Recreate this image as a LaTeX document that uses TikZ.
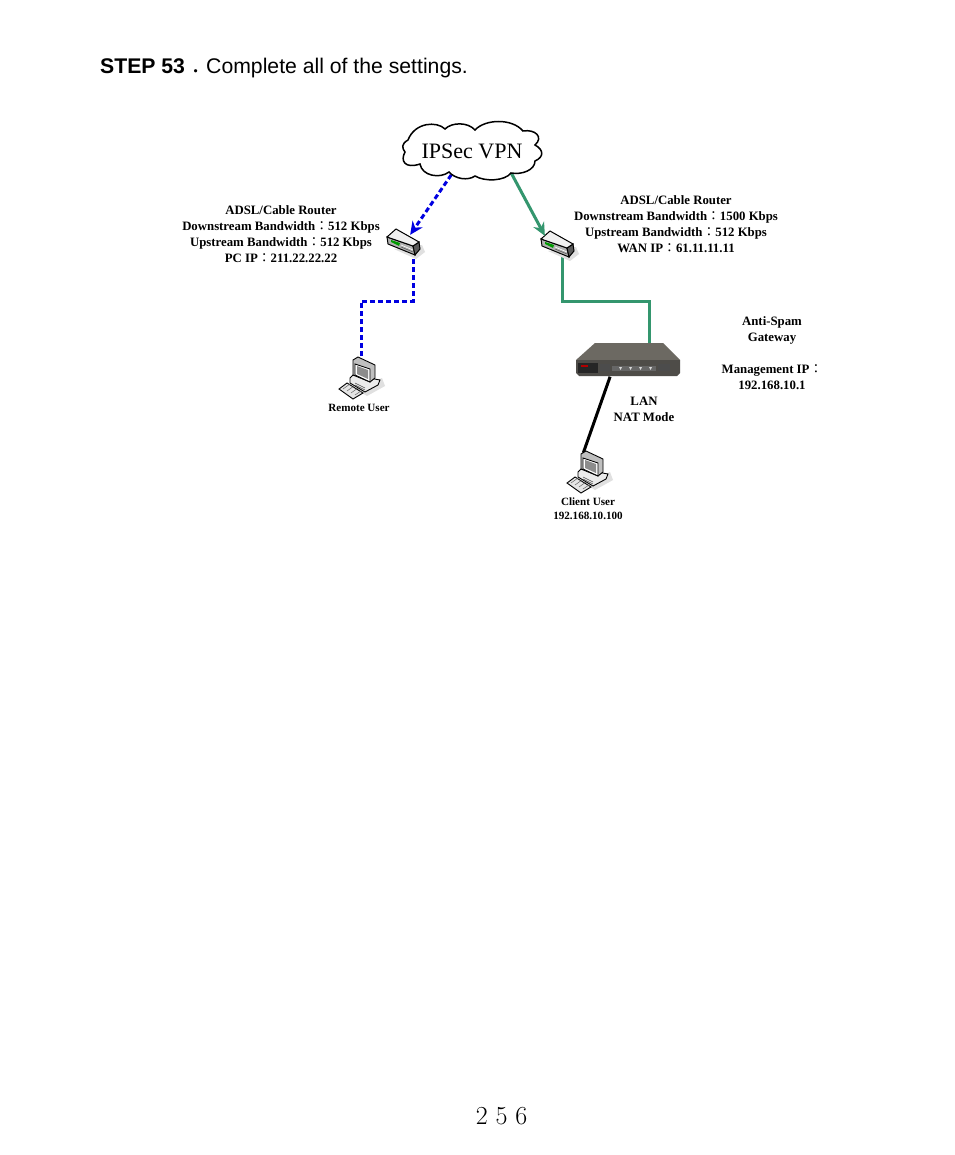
\documentclass[tikz,border=0pt]{standalone}
\usepackage{fontspec}
\usepackage{xcolor}
\usetikzlibrary{arrows.meta}
\usetikzlibrary{shapes.geometric}
\newfontfamily\labelfont{Liberation Serif}
\newfontfamily\stepfont{Liberation Sans}
\newfontfamily\cjk{Noto Sans CJK TC}
\newcommand{\fwcolon}{{\cjk\mdseries ：}}
\definecolor{vpnblue}{RGB}{0,0,225}
\definecolor{wangreen}{RGB}{52,150,110}
\definecolor{boxtop}{RGB}{108,105,98}
\definecolor{boxfront}{RGB}{78,76,72}
\tikzset{
  x=1pt, y=-1pt,
  caption/.style={align=center, inner sep=0pt, font=\labelfont\bfseries\fontsize{12.8}{16}\selectfont},
  smallcaption/.style={caption, font=\labelfont\bfseries\fontsize{11.1}{14}\selectfont},
  device/.style={inner sep=0pt, rectangle},
  vpnline/.style={vpnblue, line width=3pt, dash pattern=on 5pt off 3pt},
  wanline/.style={wangreen, line width=3pt},
  routericon/.pic={
    \fill[black!12] (-10,6) -- (12,16) -- (21,9) -- (18,2) -- cycle;
    \draw[black, line width=1pt, fill=black!30] (-17,-6) -- (9,3) -- (11,12) -- (-16,1) -- cycle;
    \draw[black, line width=1pt, fill=black!65] (9,3) -- (15,-1) -- (16,6) -- (11,12) -- cycle;
    \draw[black, line width=1pt, fill=black!6] (-17,-6) -- (-8,-14) -- (15,-1) -- (9,3) -- cycle;
    \fill[green!60!black] (-13,-3) -- (-4,0) -- (-5,3) -- (-13,-1) -- cycle;
    \draw[white, line width=0.6pt] (-3,2) -- (9,7);
    \draw[black!70, line width=0.5pt] (-3,4) -- (9,9);
  },
  pcicon/.pic={
    \fill[black!12] (-4,10) -- (6,16) -- (24,6) -- (21,-2) -- cycle;
    \draw[black, line width=0.9pt, fill=black!8] (-11,-2) -- (-8,-5) -- (19,0) -- (17,5) -- (4,12) -- (-11,3) -- cycle;
    \draw[black, line width=0.9pt, fill=black!25] (-8,-20) -- (-3,-23) -- (14,-15) -- (14,-2) -- (9,2) -- (-8,-5) -- cycle;
    \draw[black, line width=0.9pt, fill=white] (-6,-16) -- (9,-11) -- (9,2) -- (-6,-5) -- cycle;
    \fill[black!45] (-4,-14) -- (7,-10) -- (7,-1) -- (-4,-6) -- cycle;
    \draw[black!70, line width=0.5pt] (-6,3) -- (4,8) (-6,5) -- (4,10);
    \draw[black, line width=0.9pt, fill=black!10] (-22,9) -- (-14,3) -- (2,13) -- (-8,19) -- cycle;
    \draw[black!60, line width=0.5pt] (-18,9) -- (-11,4) (-14,11) -- (-7,6) (-10,13) -- (-3,8) (-6,15) -- (0,11);
  },
  gatewayicon/.pic={
    \fill[boxtop] (-33,-17) -- (35,-17) -- (52,0) -- (-52,0) -- cycle;
    \fill[boxfront] (-52,0) -- (52,0) -- (52,13) -- (49,16) -- (-49,16) -- (-52,13) -- cycle;
    \fill[black!85] (-50,3) rectangle (-30,13);
    \fill[red!70!black] (-47,5) rectangle (-40,7);
    \fill[black!70] (-28,4) rectangle (-18,11);
    \fill[black!60] (-16,6) rectangle (28,11);
    \fill[black!70] (30,4) rectangle (42,11);
    \foreach \lampx in {-9,1,11,21}
      \fill[black!15] (\lampx,7) -- ++(3,0) -- ++(-1.5,3) -- cycle;
  }
}
\begin{document}
\begin{tikzpicture}
\useasboundingbox[fill=white] (0,0) rectangle (954,1155);

\node[anchor=base west, inner sep=0pt, font=\stepfont\fontsize{21.2}{25}\selectfont] (stepline) at (100,73.5)
  {\textbf{STEP 53}\raisebox{-6.5pt}{\cjk ．}Complete all of the settings.};

\node[ellipse, inner sep=0pt, minimum width=130pt, minimum height=50pt] (vpn) at (472,151) {};
\node[device, minimum width=34pt, minimum height=16pt] (routerl) at (404,243) {};
\node[device, minimum width=34pt, minimum height=18pt] (routerr) at (558,245) {};
\node[device, minimum width=46pt, minimum height=44pt] (pcl) at (361,380) {};
\node[device, minimum width=46pt, minimum height=42pt] (pcc) at (589,474) {};
\node[device, minimum width=105pt, minimum height=33pt] (gateway) at (628,360) {};

\node[caption] (labell) at (281,234) {ADSL/Cable Router\\Downstream Bandwidth\fwcolon 512 Kbps\\Upstream Bandwidth\fwcolon 512 Kbps\\PC IP\fwcolon 211.22.22.22};
\node[caption] (labelr) at (676,224) {ADSL/Cable Router\\Downstream Bandwidth\fwcolon 1500 Kbps\\Upstream Bandwidth\fwcolon 512 Kbps\\WAN IP\fwcolon 61.11.11.11};
\node[caption] (labelg) at (772,353.5) {Anti-Spam\\Gateway\\[16pt]Management IP\fwcolon\\192.168.10.1};
\node[caption] (lan) at (644,409) {LAN\\NAT Mode};
\node[smallcaption] (remote) at (359,408) {Remote User};
\node[smallcaption] (client) at (588,509) {Client User\\192.168.10.100};
\node[inner sep=0pt, font=\fontsize{26}{30}\selectfont] (pageno) at (501.5,1116) {2 5 6};

\coordinate (blueturn) at (413,301);
\coordinate (blueturnb) at (361,301);
\coordinate (greenturn) at (562,301);
\coordinate (greenturnb) at (649,301);

\draw[vpnline] (routerl.south -| blueturn) -- (blueturn) -- (blueturnb) -- (pcl.north);
\draw[wanline] (routerr.south -| greenturn) -- (greenturn) -- (greenturnb) -- (gateway.north -| greenturnb);
\draw[black, line width=3pt] (gateway.-137) -- (pcc.105);

\pic at (routerl) {routericon};
\pic at (routerr) {routericon};
\pic at (pcl) {pcicon};
\pic at (pcc) {pcicon};
\pic at (gateway) {gatewayicon};

\draw[vpnline, -{Stealth[length=13pt, width=12pt]}] (vpn.-131) -- (routerl.53);
\draw[wanline, -{Stealth[length=13pt, width=12pt]}] (vpn.-28) -- (routerr.145);

\draw[black, line width=1.5pt, fill=white] (408,140)
  .. controls (415,122) and (437,121) .. (445,129)
  .. controls (452,122) and (468,122) .. (475,130)
  .. controls (485,119) and (512,118) .. (523,131)
  .. controls (535,129) and (544,137) .. (535,145)
  .. controls (544,150) and (544,157) .. (535,161)
  .. controls (535,170) and (522,175) .. (511,173)
  .. controls (505,181) and (485,182) .. (475,176)
  .. controls (468,181) and (455,179) .. (449,172)
  .. controls (440,179) and (422,176) .. (420,164)
  .. controls (405,169) and (400,161) .. (405,152)
  .. controls (402,148) and (401,144) .. (408,140) -- cycle;
\node[inner sep=0pt, font=\labelfont\fontsize{22}{26}\selectfont] (vpntext) at (vpn) {IPSec VPN};
\end{tikzpicture}
\end{document}
